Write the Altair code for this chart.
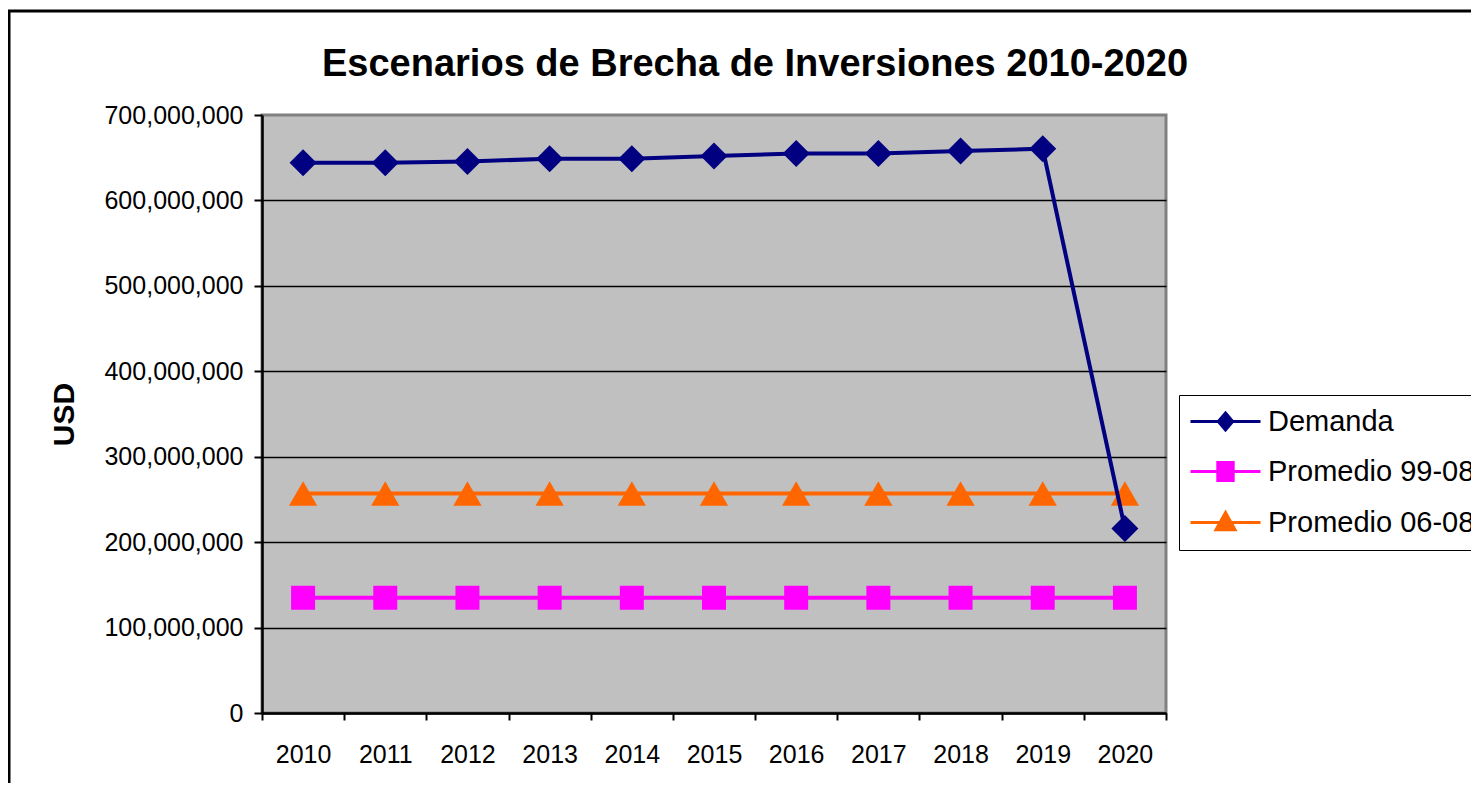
import altair as alt
import pandas as pd

FONT = "Liberation Sans"

years = ["2010", "2011", "2012", "2013", "2014", "2015", "2016", "2017", "2018", "2019", "2020"]
demanda = [644.1e6, 644.1e6, 645.6e6, 648.8e6, 648.8e6, 651.9e6, 655.0e6, 655.0e6, 657.8e6, 660.6e6, 215.9e6]
prom_99_08 = [134.9e6, 134.9e6, 134.9e6, 134.9e6, 134.9e6, 134.9e6, 134.9e6, 134.9e6, 134.9e6, 134.9e6, 134.9e6]
prom_06_08 = [257.0e6, 257.0e6, 257.0e6, 257.0e6, 257.0e6, 257.0e6, 257.0e6, 257.0e6, 257.0e6, 257.0e6, 257.0e6]

series_names = ["Demanda", "Promedio 99-08", "Promedio 06-08"]
series_values = [demanda, prom_99_08, prom_06_08]
colors = ["#000080", "#FF00FF", "#FF6600"]
marker_shapes = ["diamond", "square", "triangle-up"]
marker_sizes = [729, 576, 800]
y_ticks = [0, 100e6, 200e6, 300e6, 400e6, 500e6, 600e6, 700e6]

rows = []
for name, vals in zip(series_names, series_values):
    for yr, v in zip(years, vals):
        rows.append({"year": yr, "value": v, "series": name})
df = pd.DataFrame(rows)

x_enc = alt.X(
    "year:N",
    scale=alt.Scale(type="band", domain=years, paddingInner=0, paddingOuter=0),
    axis=alt.Axis(
        title=None, labelAngle=0, labelFont=FONT, labelFontSize=25, labelColor="black",
        labelPadding=22, tickSize=7, tickColor="black", tickWidth=2,
        domainColor="black", domainWidth=2.5, grid=False, tickBand="extent",
    ),
)
y_enc = alt.Y(
    "value:Q",
    scale=alt.Scale(domain=[0, 700e6], nice=False, zero=True),
    axis=alt.Axis(
        title="USD", values=y_ticks, format=",.0f",
        labelFont=FONT, labelFontSize=25, labelColor="black", labelPadding=11,
        tickSize=8, tickColor="black", tickWidth=2,
        domainColor="black", domainWidth=2.5,
        grid=True, gridWidth=1.5,
        gridColor={"condition": {"test": "datum.value >= 700000000", "value": "transparent"}, "value": "black"},
        titleFont=FONT, titleFontSize=30, titleFontWeight="bold", titleColor="black",
        titleAngle=270, titleX=-189, titleY=299, titleAlign="center", titleBaseline="alphabetic",
    ),
)

base = alt.Chart(df)
layers = []
for idx in [1, 2, 0]:
    s = series_names[idx]
    sub = base.transform_filter(alt.datum.series == s)
    layers.append(sub.mark_line(color=colors[idx], strokeWidth=4).encode(x=x_enc, y=y_enc))
    layers.append(
        sub.mark_point(shape=marker_shapes[idx], size=marker_sizes[idx], filled=True,
                       color=colors[idx], opacity=1).encode(x=x_enc, y=y_enc)
    )

legend_paths = [
    "M-3.5,0L3.5,0M0,-0.85L0.72,0L0,0.85L-0.72,0Z",
    "M-3.5,0L3.5,0M-0.77,-0.9L0.77,-0.9L0.77,0.9L-0.77,0.9Z",
    "M-3.5,0L3.5,0M0,-1.0L0.95,0.72L-0.95,0.72Z",
]
leg = alt.Legend(
    title=None, orient="none", legendX=917, legendY=280, padding=12,
    strokeColor="black", fillColor="white",
    symbolSize=400, symbolStrokeWidth=3, symbolOffset=20, labelOffset=28,
    labelFont=FONT, labelFontSize=29, labelColor="black", labelLimit=600, rowPadding=19,
)
legend_layer = base.transform_filter("false").mark_point(filled=False, strokeWidth=3, opacity=1).encode(
    x=x_enc, y=y_enc,
    stroke=alt.Stroke("series:N", scale=alt.Scale(domain=series_names, range=colors), legend=leg),
    fill=alt.Fill("series:N", scale=alt.Scale(domain=series_names, range=colors), legend=leg),
    shape=alt.Shape("series:N", scale=alt.Scale(domain=series_names, range=legend_paths), legend=leg),
)
layers.append(legend_layer)

border = alt.Chart(pd.DataFrame({"k": [0]})).mark_rect(filled=False, stroke="black", strokeWidth=3).encode(
    x=alt.value(-253), x2=alt.value(1300), y=alt.value(-104), y2=alt.value(800)
)
layers.append(border)

chart = alt.layer(*layers).properties(
    width=904, height=598,
    padding={"left": 254, "top": 107, "right": 305, "bottom": 70},
    autosize=alt.AutoSizeParams(type="none"),
    background="white",
    view=alt.ViewBackground(fill="#C0C0C0", stroke="#808080", strokeWidth=3),
    title=alt.Title(
        "Escenarios de Brecha de Inversiones 2010-2020", font=FONT, fontSize=38,
        fontWeight="bold", color="black", anchor="middle", dx=41, offset=-104,
        frame="group", baseline="alphabetic",
    ),
)

chart.save("out.html", embed_options={"renderer": "svg", "actions": False})
